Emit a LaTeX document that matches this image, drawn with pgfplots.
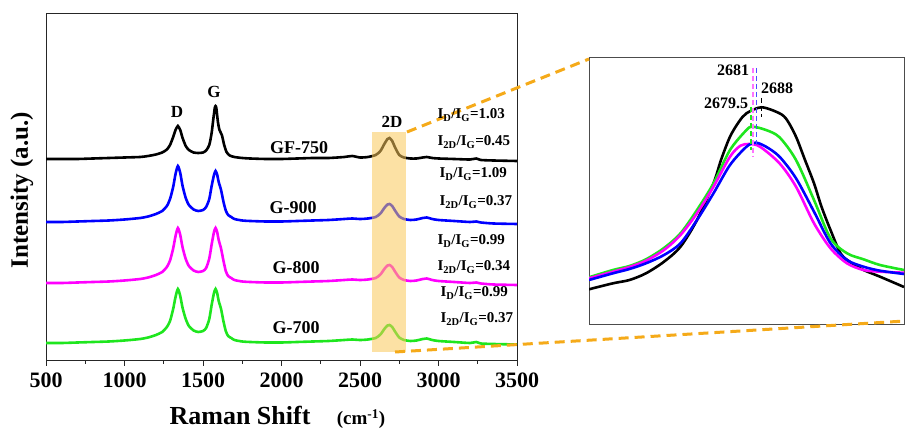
\documentclass[border=0pt]{standalone}
\usepackage{pgfplots}
\pgfplotsset{compat=1.18}
\usepackage{fontspec}
\setmainfont{Liberation Serif}
\definecolor{cgreen}{RGB}{30,230,30}
\definecolor{cblue}{RGB}{0,0,255}
\definecolor{cmag}{RGB}{255,0,255}
\definecolor{corange}{RGB}{245,170,25}
\definecolor{cyell}{RGB}{250,200,90}
\newcommand{\fs}[1]{\fontsize{#1}{#1}\selectfont\bfseries}
\begin{document}
\begin{tikzpicture}
\useasboundingbox (0pt,0pt) rectangle (905pt,428pt);
\begin{axis}[at={(46pt,68pt)}, anchor=south west, scale only axis,
  width=471pt, height=347pt, xmin=500, xmax=3500, ymin=0, ymax=347,
  xtick={500,1000,...,3500}, minor x tick num=1, ytick=\empty,
  tick align=outside, xtick pos=bottom,
  major tick length=6pt, minor tick length=4pt,
  axis line style={line width=0.8pt, black!85},
  every tick/.style={line width=0.8pt, black!85},
  /pgf/number format/assume math mode=true,
  /pgf/number format/1000 sep={},
  ticklabel style={font=\fs{22}},
  xticklabel style={yshift=-3pt},
  clip=true]
\addplot[cgreen, line width=2.6pt, smooth, tension=0.4] coordinates {
(500,17) (600,17) (700,17.5) (800,18) (900,18.5) (1000,19.5) (1100,21) (1150,22.5) (1200,25) (1240,28) (1270,33) (1290,39) (1310,51) (1325,63) (1340,71) (1355,64) (1370,52) (1390,41) (1410,34) (1440,29.5) (1470,28) (1500,29) (1520,32) (1540,41) (1555,55) (1570,67) (1580,71) (1590,67) (1600,59) (1615,51) (1630,39) (1645,29) (1660,24) (1680,22) (1700,20) (1750,18.5) (1800,18) (1900,17.5) (2000,17.5) (2100,18) (2200,18.5) (2300,19) (2400,20) (2450,20.5) (2500,20) (2550,20.5) (2600,22) (2630,25.5) (2655,31) (2675,34.5) (2688,35) (2705,33) (2725,28) (2750,22.5) (2780,20) (2820,19) (2860,19.5) (2900,21) (2925,21.5) (2960,20) (3000,19) (3100,18) (3200,17) (3240,18) (3270,16.5) (3350,16) (3500,15.5)};
\addplot[cmag, line width=2.6pt, smooth, tension=0.4] coordinates {
(500,77) (600,77) (700,77.5) (800,78) (900,78.5) (1000,79.5) (1100,81) (1150,82.5) (1200,85) (1240,88) (1270,93) (1290,99.5) (1310,111.5) (1325,124) (1340,132) (1355,125) (1370,112.5) (1390,101) (1410,94) (1440,89.5) (1470,88) (1500,89) (1520,92) (1540,101.5) (1555,115.5) (1570,128) (1580,132) (1590,128) (1600,120) (1615,111.5) (1630,99.5) (1645,89) (1660,84) (1680,82) (1700,80) (1750,78.5) (1800,78) (1900,77.5) (2000,77.5) (2100,78) (2200,78.5) (2300,79) (2400,80) (2450,80.5) (2500,80) (2550,80.5) (2600,82) (2630,85.5) (2655,91) (2675,94.5) (2688,95) (2705,93) (2725,88) (2750,82.5) (2780,80) (2820,79) (2860,79.5) (2900,81) (2925,81.5) (2960,80) (3000,79) (3100,78) (3200,77) (3240,77.5) (3270,76.5) (3350,75.5) (3500,75)};
\addplot[cblue, line width=2.6pt, smooth, tension=0.4] coordinates {
(500,138) (600,138) (700,138.5) (800,139) (900,139.5) (1000,140.5) (1100,142) (1150,143.5) (1200,146) (1240,149) (1270,154) (1290,161) (1310,173) (1325,186) (1340,194) (1355,187) (1370,174) (1390,162) (1410,155) (1440,150.5) (1470,149) (1500,150) (1520,153) (1540,161) (1555,174) (1570,185) (1580,189) (1590,185.5) (1600,178) (1615,170) (1630,158.5) (1645,149.5) (1660,145) (1680,143) (1700,141) (1750,139.5) (1800,139) (1900,138.5) (2000,138.5) (2100,139) (2200,139.5) (2300,140) (2400,141) (2450,141.5) (2500,141) (2550,141.5) (2600,143) (2630,146.5) (2655,152) (2675,155.5) (2688,156) (2705,154) (2725,149) (2750,143.5) (2780,141) (2820,140) (2860,140.5) (2900,142) (2925,142.5) (2960,141) (3000,140) (3100,139) (3200,138) (3240,138.5) (3270,137.5) (3350,136.5) (3500,136)};
\addplot[black, line width=2.6pt, smooth, tension=0.4] coordinates {
(500,201) (600,201) (700,201) (800,201.5) (900,202) (1000,202.5) (1100,203) (1150,204) (1200,205.5) (1240,207.5) (1270,210.5) (1290,215) (1310,223) (1325,230) (1340,234) (1355,230) (1370,222) (1390,214) (1410,210) (1440,207.5) (1470,207) (1500,207.5) (1520,209.5) (1540,215) (1555,227) (1565,240) (1575,252) (1580,254) (1585,252) (1595,238) (1605,230) (1620,225) (1635,215) (1650,208) (1670,204.5) (1700,203) (1750,202) (1800,201.5) (1900,201) (2000,201) (2100,201.5) (2200,202) (2300,202) (2400,203) (2450,204) (2500,202.5) (2550,203) (2600,205) (2630,209) (2655,216) (2675,221) (2688,222) (2705,219) (2725,212) (2750,205) (2780,202.5) (2820,201.5) (2860,201.5) (2900,202.5) (2925,203) (2960,202) (3000,201.5) (3100,201) (3200,200.5) (3240,201.5) (3270,200) (3350,199.5) (3500,199)};
\fill[cyell, opacity=0.55] (axis cs:2577,8) rectangle (axis cs:2793,228);
\end{axis}
\begin{axis}[at={(589pt,104pt)}, anchor=south west, scale only axis,
  width=315pt, height=267pt, xmin=2570, xmax=2780, ymin=0, ymax=267,
  xtick=\empty, ytick=\empty,
  axis line style={line width=0.8pt, black!70}, clip=true]
\addplot[black, line width=2.6pt, smooth, tension=0.5] coordinates {
(2570,34.7) (2586,40.7) (2597,44) (2608,50.7) (2620,62.3) (2631,77.3) (2642,104) (2653,140.7) (2658,164) (2664,187.3) (2670,202.3) (2675,210.7) (2685,216.7) (2697,210.7) (2702,204) (2708,187.3) (2714,164) (2720,140.7) (2725,117.3) (2731,94) (2738,70) (2746,60) (2753,54) (2764,47.3) (2780,37)};
\addplot[cgreen, line width=2.6pt, smooth, tension=0.5] coordinates {
(2570,46.7) (2586,54) (2597,58) (2608,64.7) (2620,76) (2631,90.7) (2642,114) (2653,140.7) (2664,174) (2675,194) (2679,197.3) (2688,194) (2697,186.7) (2708,164) (2720,124) (2731,85.7) (2742,70.7) (2753,64.7) (2764,59) (2780,54)};
\addplot[cmag, line width=2.6pt, smooth, tension=0.5] coordinates {
(2570,45.7) (2586,52.3) (2597,57) (2608,63.3) (2620,74) (2631,89) (2642,110.7) (2653,137.3) (2664,167.3) (2671,178.3) (2677,180) (2684,177.3) (2697,160.7) (2708,137.3) (2720,100.7) (2731,75.7) (2742,60.7) (2753,54) (2764,52.3) (2780,51.3)};
\addplot[cblue, line width=2.6pt, smooth, tension=0.5] coordinates {
(2570,44) (2586,50.7) (2597,55) (2608,60.7) (2620,69) (2631,80.7) (2642,104) (2653,130.7) (2664,159) (2675,177.3) (2681,181.3) (2688,177.3) (2697,167.3) (2708,145.7) (2720,112.3) (2731,80.7) (2742,64) (2753,57.3) (2764,53.3) (2780,50)};
\addplot[cmag!55, line width=1.5pt, dash pattern=on 5pt off 3pt] coordinates {(2679.3,256) (2679.3,167)};
\addplot[cblue!70, line width=1.5pt, dash pattern=on 5pt off 3pt] coordinates {(2681.6,256) (2681.6,179)};
\addplot[cgreen, line width=1.2pt, dash pattern=on 5pt off 3pt] coordinates {(2678,217) (2678,174)};
\addplot[black, line width=1pt, dash pattern=on 5pt off 3pt] coordinates {(2685.3,226) (2685.3,207)};
\end{axis}
% annotations
\draw[corange, line width=3pt, dash pattern=on 10pt off 6pt] (407pt,296pt) -- (589pt,369pt);
\draw[corange, line width=3pt, dash pattern=on 10pt off 6pt] (395pt,76pt) -- (905pt,107pt);
\node[font=\fs{17}] at (177pt,316pt) {D};
\node[font=\fs{17}] at (214pt,336pt) {G};
\node[font=\fs{17}] at (392pt,306pt) {2D};
\node[font=\fs{18}] at (299pt,280pt) {GF-750};
\node[font=\fs{18}] at (293pt,220pt) {G-900};
\node[font=\fs{18}] at (296pt,160pt) {G-800};
\node[font=\fs{18}] at (296pt,100pt) {G-700};
\node[font=\fs{15}, anchor=west] at (434pt,313pt) {I\textsubscript{D}/I\textsubscript{G}=1.03};
\node[font=\fs{15}, anchor=west] at (434pt,286pt) {I\textsubscript{2D}/I\textsubscript{G}=0.45};
\node[font=\fs{15}, anchor=west] at (436pt,254pt) {I\textsubscript{D}/I\textsubscript{G}=1.09};
\node[font=\fs{15}, anchor=west] at (436pt,226pt) {I\textsubscript{2D}/I\textsubscript{G}=0.37};
\node[font=\fs{15}, anchor=west] at (434pt,187pt) {I\textsubscript{D}/I\textsubscript{G}=0.99};
\node[font=\fs{15}, anchor=west] at (434pt,161pt) {I\textsubscript{2D}/I\textsubscript{G}=0.34};
\node[font=\fs{15}, anchor=west] at (437pt,135pt) {I\textsubscript{D}/I\textsubscript{G}=0.99};
\node[font=\fs{15}, anchor=west] at (437pt,109pt) {I\textsubscript{2D}/I\textsubscript{G}=0.37};
\node[font=\fs{16}] at (733pt,358pt) {2681};
\node[font=\fs{16}] at (777pt,340pt) {2688};
\node[font=\fs{16}] at (726pt,325pt) {2679.5};
\node[font=\fs{25}, rotate=90] at (22pt,238pt) {Intensity (a.u.)};
\node[font=\fs{26}] at (240pt,13pt) {Raman Shift};
\node[font=\fs{19}] at (361pt,9pt) {(cm\textsuperscript{-1})};
\end{tikzpicture}
\end{document}
